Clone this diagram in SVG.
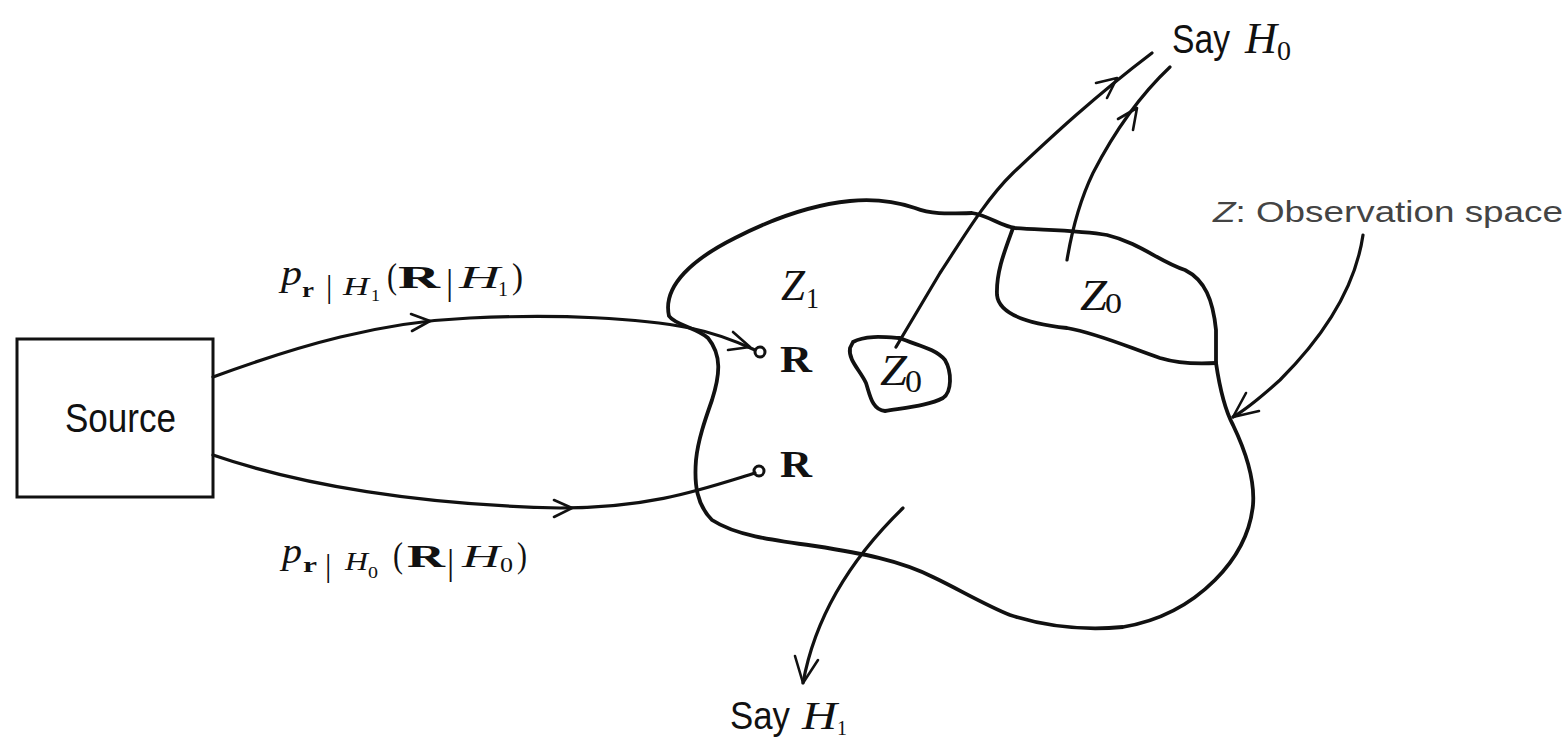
<svg xmlns="http://www.w3.org/2000/svg" width="1566" height="740" viewBox="0 0 1566 740">
<style>
.ln{fill:none;stroke:#111;stroke-width:3.2;stroke-linecap:round;stroke-linejoin:round}
.bl{fill:none;stroke:#111;stroke-width:3.8;stroke-linecap:round;stroke-linejoin:round}
.ah{fill:none;stroke:#111;stroke-width:2.6;stroke-linecap:round;stroke-linejoin:round}
.m{font-family:"Liberation Serif",serif;fill:#111}
.i{font-style:italic}
.b{font-weight:bold}
.s{font-family:"Liberation Sans",sans-serif;fill:#111}
.dot{fill:#fff;stroke:#111;stroke-width:3}
</style>
<rect width="1566" height="740" fill="#fff"/>

<g id="source">
<rect x="17" y="339" width="196" height="158" fill="none" stroke="#111" stroke-width="3"/>
<text class="s" x="65" y="432" font-size="40" textLength="111" lengthAdjust="spacingAndGlyphs">Source</text>
</g>

<g id="observation-space">
<path class="bl" d="M669,316 C662,285 695,258 735,238 C770,220 810,205 850,201 C880,198 900,203 915,208 C930,214 945,214 972,213 C990,216 1000,226 1015,228 C1040,230 1080,230 1107,235 C1140,243 1160,262 1185,270 C1205,280 1213,300 1216,330 L1216,363 C1220,390 1225,410 1233,425 C1245,450 1255,480 1253,505 C1250,535 1235,560 1215,580 C1195,600 1165,620 1123,627 C1090,630 1050,628 1010,615 C985,605 960,590 935,578 C900,560 860,553 815,546 C770,540 735,535 712,520 C697,505 694,485 696,460 C698,440 705,420 712,400 C720,375 722,355 708,338 C697,328 675,325 669,316 Z"/>
<text class="m i" x="781" y="300" font-size="44" textLength="24" lengthAdjust="spacingAndGlyphs">Z</text>
<text class="m" x="806" y="308" font-size="30" textLength="13" lengthAdjust="spacingAndGlyphs">1</text>
</g>

<g id="region-z0-right">
<path class="bl" d="M1013,228 C1005,250 996,272 997,295 C999,315 1030,324 1067,328 C1100,334 1130,348 1160,358 C1180,364 1200,364 1216,363"/>
<text class="m i" x="1080" y="310" font-size="44" textLength="27" lengthAdjust="spacingAndGlyphs">Z</text>
<text class="m" x="1105" y="313" font-size="30" textLength="17" lengthAdjust="spacingAndGlyphs">0</text>
</g>

<g id="region-z0-small">
<path class="bl" d="M853,342 C865,335 885,337 900,338 C915,345 935,348 945,360 C952,372 952,392 943,398 C930,405 910,407 885,411 C872,410 870,395 866,383 C860,370 848,360 850,348 Z"/>
<text class="m i" x="880" y="385" font-size="44" textLength="27" lengthAdjust="spacingAndGlyphs">Z</text>
<text class="m" x="905" y="392" font-size="32" textLength="17" lengthAdjust="spacingAndGlyphs">0</text>
</g>

<g id="r-upper">
<circle class="dot" cx="760" cy="352" r="5"/>
<text class="m b" x="780" y="372" font-size="38" textLength="32" lengthAdjust="spacingAndGlyphs">R</text>
</g>
<g id="r-lower">
<circle class="dot" cx="759" cy="471" r="5"/>
<text class="m b" x="780" y="477" font-size="38" textLength="32" lengthAdjust="spacingAndGlyphs">R</text>
</g>

<g id="say-h0">
<text class="s" x="1172" y="53" font-size="40" textLength="58" lengthAdjust="spacingAndGlyphs">Say</text>
<text class="m i" x="1245" y="53" font-size="44" textLength="32" lengthAdjust="spacingAndGlyphs">H</text>
<text class="m" x="1277" y="60" font-size="28" textLength="14" lengthAdjust="spacingAndGlyphs">0</text>
</g>

<g id="say-h1">
<text class="s" x="730" y="729" font-size="38" textLength="60" lengthAdjust="spacingAndGlyphs">Say</text>
<text class="m i" x="802" y="729" font-size="40" textLength="35" lengthAdjust="spacingAndGlyphs">H</text>
<text class="m" x="837" y="735" font-size="22" textLength="10" lengthAdjust="spacingAndGlyphs">1</text>
</g>

<g id="label-z">
<text class="s" x="1213" y="222" font-size="29" style="fill:#444" textLength="350" lengthAdjust="spacingAndGlyphs"><tspan font-style="italic">Z</tspan>: Observation space</text>
</g>

<g id="label-p1">
<text class="m i" x="281" y="285" font-size="36" textLength="21" lengthAdjust="spacingAndGlyphs">p</text>
<text class="m b" x="302" y="297" font-size="22" textLength="12" lengthAdjust="spacingAndGlyphs">r</text>
<text class="m" x="326" y="297" font-size="32">|</text>
<text class="m i" x="343" y="295" font-size="26" textLength="26" lengthAdjust="spacingAndGlyphs">H</text>
<text class="m" x="371" y="301" font-size="17" textLength="9" lengthAdjust="spacingAndGlyphs">1</text>
<text class="m" x="387" y="288" font-size="36" textLength="10" lengthAdjust="spacingAndGlyphs">(</text>
<text class="m b" x="398" y="288" font-size="31" textLength="42" lengthAdjust="spacingAndGlyphs">R</text>
<text class="m" x="446" y="294" font-size="36">|</text>
<text class="m i" x="459" y="288" font-size="31" textLength="41" lengthAdjust="spacingAndGlyphs">H</text>
<text class="m" x="498" y="296" font-size="20" textLength="10" lengthAdjust="spacingAndGlyphs">1</text>
<text class="m" x="512" y="288" font-size="36" textLength="11" lengthAdjust="spacingAndGlyphs">)</text>
</g>

<g id="label-p0">
<text class="m i" x="282" y="563" font-size="36" textLength="20" lengthAdjust="spacingAndGlyphs">p</text>
<text class="m b" x="303" y="572" font-size="22" textLength="14" lengthAdjust="spacingAndGlyphs">r</text>
<text class="m" x="325" y="576" font-size="32">|</text>
<text class="m i" x="345" y="570" font-size="26" textLength="23" lengthAdjust="spacingAndGlyphs">H</text>
<text class="m" x="368" y="578" font-size="17" textLength="10" lengthAdjust="spacingAndGlyphs">0</text>
<text class="m" x="393" y="567" font-size="36" textLength="10" lengthAdjust="spacingAndGlyphs">(</text>
<text class="m b" x="407" y="567" font-size="31" textLength="38" lengthAdjust="spacingAndGlyphs">R</text>
<text class="m" x="447" y="574" font-size="36">|</text>
<text class="m i" x="462" y="567" font-size="31" textLength="38" lengthAdjust="spacingAndGlyphs">H</text>
<text class="m" x="500" y="572" font-size="21" textLength="13" lengthAdjust="spacingAndGlyphs">0</text>
<text class="m" x="517" y="567" font-size="36" textLength="10" lengthAdjust="spacingAndGlyphs">)</text>
</g>

<g id="connectors">
<path class="ln" d="M213,377 C300,345 380,322 470,318 C560,314 640,318 690,328 C720,334 740,343 755,350"/>
<path class="ah" d="M412,331 L430,321 L411,314"/>
<path class="ah" d="M733,332 L750,347 L728,350"/>
<path class="ln" d="M213,455 C300,485 420,505 560,508 C650,508 700,490 755,473"/>
<path class="ah" d="M554,517 L572,508 L554,500"/>
<path class="ln" d="M896,347 L940,273 C960,243 985,200 1013,173 C1045,143 1090,100 1152,53"/>
<path class="ah" d="M1107,98 L1117,78 L1096,83"/>
<path class="ln" d="M1067,260 C1072,230 1080,200 1093,173 C1110,140 1135,100 1170,67"/>
<path class="ah" d="M1133,130 L1137,108 L1118,119"/>
<path class="ln" d="M903,508 C868,542 818,600 803,683"/>
<path class="ah" d="M795,656 L803,683 L818,660"/>
<path class="ln" d="M1363,235 C1355,290 1320,340 1280,380 C1260,398 1245,410 1233,417"/>
<path class="ah" d="M1246,393 L1233,417 L1259,411"/>
</g>
</svg>
